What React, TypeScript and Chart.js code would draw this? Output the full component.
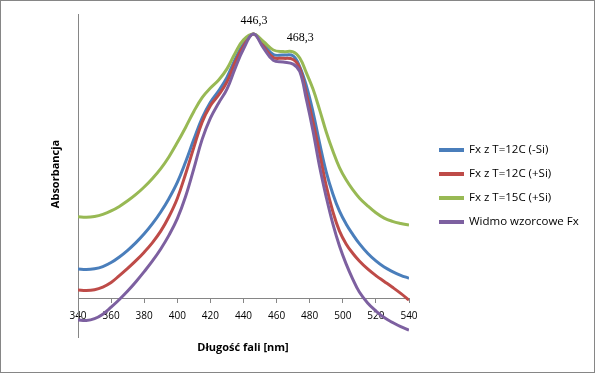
import React, { useEffect, useRef } from "react";
import { Chart, registerables } from "chart.js";

Chart.register(...registerables);

// Wavelengths [nm]
const wavelengths = [
  340, 345, 350, 355, 360, 365, 370, 375, 380, 385, 390, 395, 400, 405, 410, 415, 420, 425, 430, 435, 440,
  446, 452, 458, 464, 470, 474, 478, 482, 486, 490, 494, 498, 502, 506, 510, 515, 520, 525, 530, 535, 540,
];

const seriesLabels = [
  "Fx z T=12C (-Si)",
  "Fx z T=12C (+Si)",
  "Fx z T=15C (+Si)",
  "Widmo wzorcowe Fx",
];

const seriesColors = ["#4A7EBB", "#BE4B48", "#98B954", "#7D60A0"];

const fx12MinusSi = [
  0.113, 0.111, 0.114, 0.122, 0.137, 0.158, 0.183, 0.212, 0.245, 0.283, 0.327, 0.378, 0.438, 0.515, 0.6, 0.68, 0.74, 0.783, 0.833, 0.902, 0.959,
  0.996, 0.959, 0.919, 0.917, 0.914, 0.873, 0.801, 0.703, 0.585, 0.477, 0.395, 0.33, 0.282, 0.243, 0.208, 0.172, 0.143, 0.12, 0.103, 0.089, 0.078,
];

const fx12PlusSi = [
  0.034, 0.032, 0.035, 0.045, 0.062, 0.088, 0.115, 0.144, 0.176, 0.212, 0.255, 0.31, 0.378, 0.47, 0.57, 0.665, 0.727, 0.767, 0.816, 0.891, 0.951,
  0.996, 0.951, 0.908, 0.905, 0.9, 0.867, 0.771, 0.665, 0.548, 0.425, 0.328, 0.255, 0.207, 0.172, 0.143, 0.113, 0.088, 0.066, 0.044, 0.021, -0.004,
];

const fx15PlusSi = [
  0.309, 0.307, 0.31, 0.318, 0.331, 0.348, 0.369, 0.393, 0.421, 0.453, 0.49, 0.535, 0.588, 0.645, 0.705, 0.757, 0.793, 0.823, 0.865, 0.925, 0.974,
  0.996, 0.968, 0.936, 0.93, 0.929, 0.906, 0.85, 0.789, 0.711, 0.628, 0.556, 0.494, 0.448, 0.411, 0.38, 0.35, 0.324, 0.304, 0.292, 0.284, 0.278,
];

const fxReference = [
  -0.079, -0.081, -0.074, -0.057, -0.031, -0.002, 0.03, 0.065, 0.103, 0.143, 0.188, 0.24, 0.302, 0.385, 0.49, 0.6, 0.68, 0.737, 0.789, 0.868, 0.94,
  0.996, 0.944, 0.897, 0.891, 0.883, 0.855, 0.75, 0.632, 0.497, 0.383, 0.282, 0.199, 0.132, 0.075, 0.026, -0.015, -0.045, -0.07, -0.088, -0.104, -0.117,
];

const seriesValues = [fx12MinusSi, fx12PlusSi, fx15PlusSi, fxReference];
const seriesOrder = [4, 3, 2, 1];

// Peak annotations (text, wavelength, value)
const peakTexts = ["446,3", "468,3"];
const peakX = [446.3, 474.3];
const peakY = [1.045, 0.981];

const xTitle = "Długość fali [nm]";
const yTitle = "Absorbancja";

const SANS = "'Open Sans', 'Liberation Sans', sans-serif";

export default function App() {
  const canvasRef = useRef<HTMLCanvasElement | null>(null);

  useEffect(() => {
    document.body.style.margin = "0";
    const canvas = canvasRef.current;
    if (!canvas) return;

    const decor = {
      id: "decor",
      beforeDraw(chart: any) {
        const c = chart.ctx;
        c.save();
        c.fillStyle = "#ffffff";
        c.fillRect(0, 0, chart.width, chart.height);
        c.restore();
      },
      afterDraw(chart: any) {
        const c = chart.ctx;
        const xs = chart.scales.x;
        const ys = chart.scales.y;
        c.save();
        // outer border
        c.strokeStyle = "#868686";
        c.lineWidth = 1;
        c.strokeRect(0.5, 0.5, 594, 372);

        // axis titles
        c.fillStyle = "#000";
        c.font = `bold 11px ${SANS}`;
        c.textAlign = "center";
        c.textBaseline = "middle";
        c.fillText(xTitle, 243, 348);
        c.save();
        c.translate(56, 174);
        c.rotate(-Math.PI / 2);
        c.fillText(yTitle, 0, 0);
        c.restore();

        // peak labels
        c.font = "12px 'Liberation Serif', serif";
        peakTexts.forEach((t, i) => {
          c.fillText(t, xs.getPixelForValue(peakX[i]), ys.getPixelForValue(peakY[i]));
        });

        // legend
        c.font = `11.5px ${SANS}`;
        c.textAlign = "left";
        chart.data.datasets.forEach((ds: any, i: number) => {
          const yy = 150 + i * 24;
          c.strokeStyle = ds.borderColor;
          c.lineWidth = 4;
          c.beginPath();
          c.moveTo(439, yy);
          c.lineTo(464, yy);
          c.stroke();
          c.fillStyle = "#000";
          c.fillText(ds.label, 469, yy);
        });
        c.restore();
      },
    };

    const chart = new Chart(canvas, {
      type: "line",
      data: {
        datasets: seriesLabels.map((label, s) => ({
          label,
          data: wavelengths.map((x, i) => ({ x, y: seriesValues[s][i] })),
          borderColor: seriesColors[s],
          backgroundColor: seriesColors[s],
          borderWidth: 3,
          pointRadius: 0,
          tension: 0.4,
          fill: false,
          order: seriesOrder[s],
        })),
      },
      options: {
        animation: false,
        responsive: false,
        maintainAspectRatio: false,
        layout: { padding: { left: 78, top: 14, right: 187, bottom: 36 } },
        plugins: {
          legend: { display: false },
          tooltip: { enabled: false },
          title: { display: false },
        },
        scales: {
          x: {
            type: "linear",
            min: 340,
            max: 540,
            position: { y: 0 } as any,
            ticks: {
              stepSize: 20,
              color: "#000",
              font: { family: SANS, size: 10 },
              padding: 7,
              maxRotation: 0,
              autoSkip: false,
            },
            grid: { drawOnChartArea: false, tickLength: 4, color: "#868686" },
            border: { color: "#868686", width: 1 },
          },
          y: {
            type: "linear",
            min: -0.1429,
            max: 1.0714,
            afterFit: (s: any) => {
              s.width = 0;
            },
            ticks: { display: false },
            grid: { display: false },
            border: { color: "#868686", width: 1 },
          },
        },
      },
      plugins: [decor],
    });

    return () => chart.destroy();
  }, []);

  return (
    <div style={{ width: 596, height: 373, position: "relative" }}>
      <canvas ref={canvasRef} width={596} height={373} />
    </div>
  );
}
